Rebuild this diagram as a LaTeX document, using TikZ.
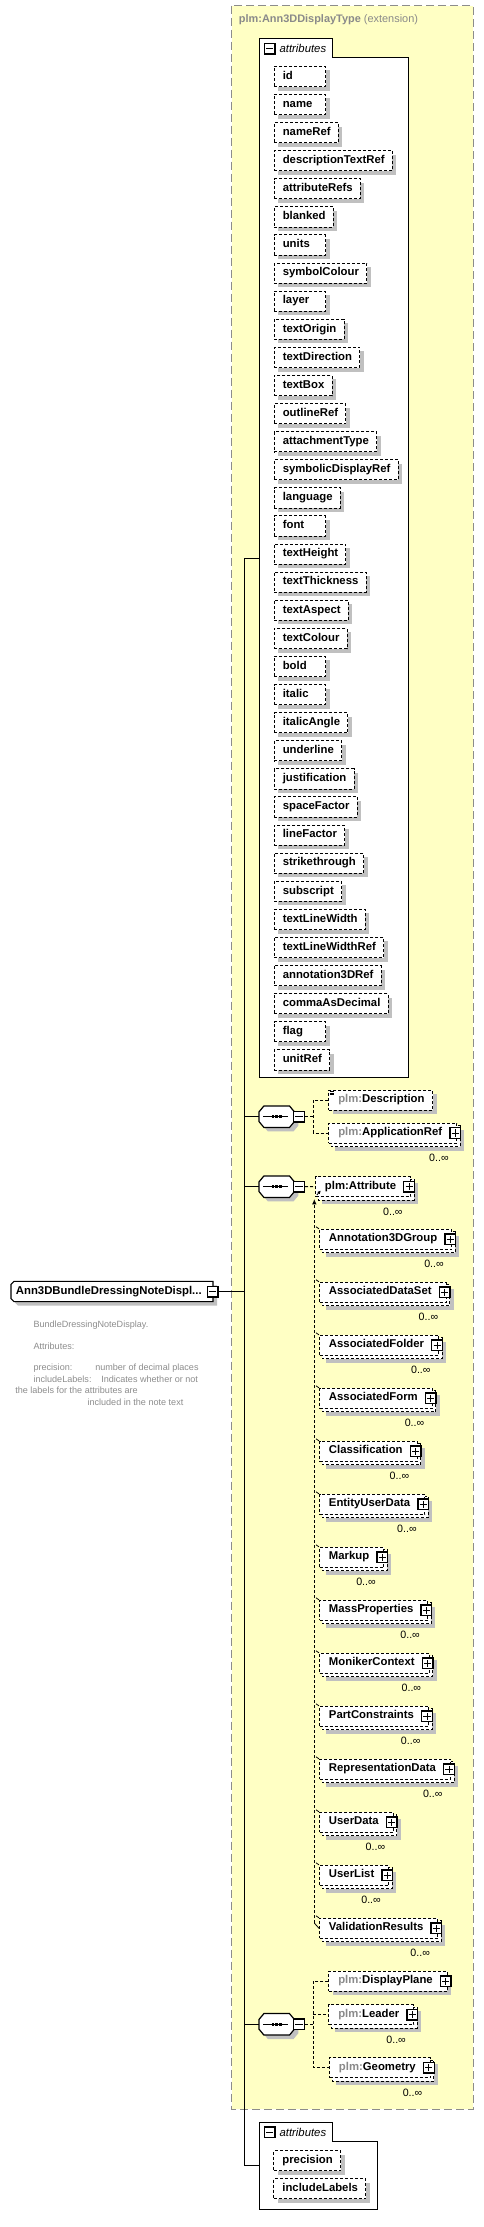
\documentclass[tikz,border=0pt]{standalone}
\usepackage{fontspec}
\setmainfont{Liberation Sans}
\usetikzlibrary{shadows,arrows.meta}
\definecolor{ext}{HTML}{FFFFC4}
\definecolor{shad}{HTML}{C0C0C0}
\definecolor{pfx}{HTML}{8A8A8A}
\definecolor{doc}{HTML}{8C8C8C}
\definecolor{extline}{HTML}{8C8C8C}
\pgfdeclarelayer{back}
\pgfdeclarelayer{bg}
\pgfsetlayers{back,bg,main}
\newcommand\minw[2]{\setbox0\hbox{#2}\ifdim\wd0<#1\relax\hbox to #1{\box0\hfil}\else\box0\fi}
\newcommand\attrtxt[1]{\hspace*{6.45pt}\minw{26.25pt}{\strut #1}\hspace*{5.8pt}}
\newcommand\pfx{{\color{pfx}plm:}}
\newcommand\etxt[1]{\hspace*{7.1pt}\strut #1\hspace*{10.9pt}}
\newcommand\etxtn[1]{\hspace*{7.1pt}\strut #1\hspace*{6pt}}
\newcommand\multi[1]{\begin{pgfonlayer}{bg}
  \fill[shad] ([shift={(7,7)}]#1.north west) rectangle ([shift={(7,7)}]#1.south east);
  \draw[dsh,fill=white,line width=0.75pt] ([shift={(3,3)}]#1.north west) rectangle ([shift={(3,3)}]#1.south east);
  \end{pgfonlayer}}
\newcommand\plusof[1]{\node[pmbox] (#1p) at ([shift={(-2,0)}]#1.east) {};
  \draw[sign] (#1p.center) +(-2.7pt,0) -- +(2.7pt,0) (#1p.center) +(0,-2.7pt) -- +(0,2.7pt);}
\newcommand\minusat[2]{\node[pmbox] (#1) at #2 {};
  \draw[sign] (#1.center) +(-2.7pt,0) -- +(2.7pt,0);}
\newcommand\card[1]{\node[cardst] (#1c) at ([shift={(-8.3,18)}]#1.south east) {0..∞};}
\newcommand\octo[3]{([shift={(#2+5,#3)}]#1.north west) -- ([shift={(#2-5,#3)}]#1.north east) -- ([shift={(#2,#3+6)}]#1.north east) -- ([shift={(#2,#3-6)}]#1.south east) -- ([shift={(#2-5,#3)}]#1.south east) -- ([shift={(#2+5,#3)}]#1.south west) -- ([shift={(#2,#3-6)}]#1.south west) -- ([shift={(#2,#3+6)}]#1.north west) -- cycle}
\newcommand\seqat[3]{\node[seqn] (#1) at (#2,#3) {};
  \fill[shad] \octo{#1}{4}{4};
  \draw[line width=0.9pt,fill=white] \octo{#1}{0}{0};
  \draw[line width=0.75pt] (#1.center) +(-13.4,0) -- +(11.6,0);
  \foreach \dx in {-3.9,0,3.9} {\fill ([shift={(\dx-1.3,-1.3)}]#1.center) rectangle +(2.6,2.6);}
  \minusat{#1m}{([shift={(22.3,0)}]#1.center)}}
\tikzset{
  dsh/.style={dash pattern=on 2.25pt off 1.5pt},
  bfs/.style={font=\fontsize{8.5}{10}\selectfont\bfseries},
  shd/.style={drop shadow={shadow xshift=3pt,shadow yshift=-3pt,fill=shad,opacity=1}},
  attr/.style={draw,dsh,fill=white,line width=0.75pt,anchor=west,minimum height=15.2pt,inner sep=0pt,bfs,shd},
  elem/.style={draw,dsh,fill=white,line width=0.75pt,anchor=west,minimum height=15pt,inner sep=0pt,bfs},
  pmbox/.style={draw,fill=white,line width=1pt,minimum size=8pt,inner sep=0pt},
  sign/.style={line width=0.75pt},
  cardst/.style={anchor=base east,inner sep=0pt,font=\fontsize{8}{9.6}\selectfont},
  seqn/.style={minimum width=26.25pt,minimum height=15.75pt,inner sep=0pt},
  docst/.style={anchor=west,inner sep=0pt,text=doc,font=\fontsize{6.8}{8}\selectfont},
  abox/.style={draw,fill=white,line width=0.75pt},
  conn/.style={line width=0.75pt},
}
\begin{document}
\begin{tikzpicture}[x=0.75pt,y=-0.75pt]
\useasboundingbox (0,0) rectangle (484,2227);
\begin{pgfonlayer}{back}
\draw[fill=ext,draw=extline,line width=1.1pt,dash pattern=on 6pt off 3pt] (231.7,5.7) rectangle (473.3,2109.3);
\end{pgfonlayer}
\node[anchor=west,inner sep=0pt,text=pfx,font=\fontsize{8.2}{10}\selectfont] (ttl) at (238.7,19.3) {\textbf{plm:Ann3DDisplayType} (extension)};
% upper attributes
\draw[abox] (259.7,38.7) -- (332,38.7) -- (332,57) -- (408,57) -- (408,1077.7) -- (259.7,1077.7) -- cycle;
\minusat{am1}{(269.8,48.8)}
\node[anchor=west,inner sep=0pt,font=\fontsize{8.5}{10}\selectfont\itshape] (at1) at (279.3,48.3) {attributes};
\foreach \n [count=\k from 0] in {id,name,nameRef,descriptionTextRef,attributeRefs,blanked,units,symbolColour,layer,textOrigin,textDirection,textBox,outlineRef,attachmentType,symbolicDisplayRef,language,font,textHeight,textThickness,textAspect,textColour,bold,italic,italicAngle,underline,justification,spaceFactor,lineFactor,strikethrough,subscript,textLineWidth,textLineWidthRef,annotation3DRef,commaAsDecimal,flag,unitRef} {
  \node[attr] (a\k) at (273.7,{76.45+28.1*\k}) {\attrtxt{\n}};
}
% root element
\node[anchor=west,inner sep=0pt,minimum height=14.7pt,bfs] (root) at (11,1291.5) {\hbox to 151.1pt{\hspace*{3.5pt}Ann3DBundleDressingNoteDispl...\hfil}};
\begin{pgfonlayer}{bg}
\draw[line width=0.8pt,fill=white,shd] ([shift={(3,0)}]root.north west) -- (root.north east) -- (root.south east) -- ([shift={(3,0)}]root.south west) -- ([shift={(0,-3)}]root.south west) -- ([shift={(0,3)}]root.north west) -- cycle;
\end{pgfonlayer}
\minusat{rm}{(212.8,1291.5)}
\node[docst] (d1) at (33.3,1325) {BundleDressingNoteDisplay.};
\node[docst] (d2) at (33.3,1346.7) {Attributes:};
\node[docst] (d3) at (33.3,1368.3) {precision:};
\node[docst] (d4) at (95,1368.3) {number of decimal places};
\node[docst] (d5) at (33.3,1379.7) {includeLabels:};
\node[docst] (d6) at (101,1379.7) {Indicates whether or not};
\node[docst] (d7) at (15,1390.7) {the labels for the attributes are};
\node[docst] (d8) at (87.3,1402) {included in the note text};
% spine
\coordinate (spT) at (244.3,558.3);
\coordinate (spB) at (244.3,2165.7);
\coordinate (ab1) at (259.7,558.3);
\coordinate (ab2) at (259.7,2165.7);
\draw[conn] (spT) -- (spB);
\draw[conn] (spT) -- (ab1);
\draw[conn] (spB) -- (ab2);
\draw[conn] (rm.east) -- (rm.east -| spT);
% sequence 1
\seqat{s1}{276.7}{1116.7}
\draw[conn] (s1.west -| spT) -- (s1.west);
\node[elem,shd] (desc) at (328.3,1100.3) {\etxtn{\pfx Description}};
\foreach \yy in {0,1.4,2.8} {\draw[line width=0.5pt] (329.8,1091.6+\yy) -- (334.3,1091.6+\yy);}
\node[elem] (appref) at (328.3,1133) {\etxt{\pfx ApplicationRef}};
\multi{appref}\plusof{appref}\card{appref}
\coordinate (j1) at (313.3,1116.7);
\draw[dsh,line width=0.75pt] (s1m.east) -- (j1);
\draw[dsh,line width=0.75pt] (desc.west) -- (desc.west -| j1) -- (appref.west -| j1) -- (appref.west);
% sequence 2
\seqat{s2}{276.7}{1186.7}
\draw[conn] (s2.west -| spT) -- (s2.west);
\node[elem] (ahead) at (315,1186.5) {\etxt{plm:Attribute}};
\multi{ahead}\plusof{ahead}\card{ahead}
\draw[-{Latex[length=2.6pt,width=2.6pt]},line width=0.6pt] (316.8,1195) -- (320.8,1190.5);
\draw[dsh,line width=0.75pt] (s2m.east) -- (ahead.west);
\foreach \nm [count=\k from 0] in {Annotation3DGroup,AssociatedDataSet,AssociatedFolder,AssociatedForm,Classification,EntityUserData,Markup,MassProperties,MonikerContext,PartConstraints,RepresentationData,UserData,UserList,ValidationResults} {
  \node[elem] (g\k) at (319,{1239.3+53*\k}) {\etxt{\nm}};
  \multi{g\k}\plusof{g\k}\card{g\k}
  \draw[line width=0.6pt] (g\k.north west) -- ++(-3,-2);
}
\coordinate (subT) at (314.3,1199);
\coordinate (subB) at (314.3,1923);
\draw[dsh,line width=0.75pt,-{Latex[length=4pt,width=3.5pt]}] (subB) -- (subT);
\draw[line width=0.6pt] (subB) -- (g13.west);
% sequence 3
\seqat{s3}{276.7}{2024.3}
\draw[conn] (s3.west -| spT) -- (s3.west);
\node[elem,shd] (dplane) at (328.3,1981.3) {\etxt{\pfx DisplayPlane}};
\plusof{dplane}
\node[elem] (leader) at (328.3,2014.5) {\etxt{\pfx Leader}};
\multi{leader}\plusof{leader}\card{leader}
\node[elem] (geom) at (329,2067.7) {\etxt{\pfx Geometry}};
\multi{geom}\plusof{geom}\card{geom}
\coordinate (j3) at (313.3,2024.3);
\draw[dsh,line width=0.75pt] (s3m.east) -- (j3);
\draw[dsh,line width=0.75pt] (dplane.west) -- (dplane.west -| j3) -- (geom.west -| j3) -- (geom.west);
\draw[dsh,line width=0.75pt] (leader.west -| j3) -- (leader.west);
% lower attributes
\draw[abox] (259.7,2122.7) -- (332.7,2122.7) -- (332.7,2141.7) -- (377.7,2141.7) -- (377.7,2209.3) -- (259.7,2209.3) -- cycle;
\minusat{am2}{(269.7,2132.2)}
\node[anchor=west,inner sep=0pt,font=\fontsize{8.5}{10}\selectfont\itshape] (at2) at (279.3,2132.3) {attributes};
\node[attr] (p1) at (273.3,2160.7) {\attrtxt{precision}};
\node[attr] (p2) at (273.3,2188.7) {\attrtxt{includeLabels}};
\end{tikzpicture}
\end{document}
